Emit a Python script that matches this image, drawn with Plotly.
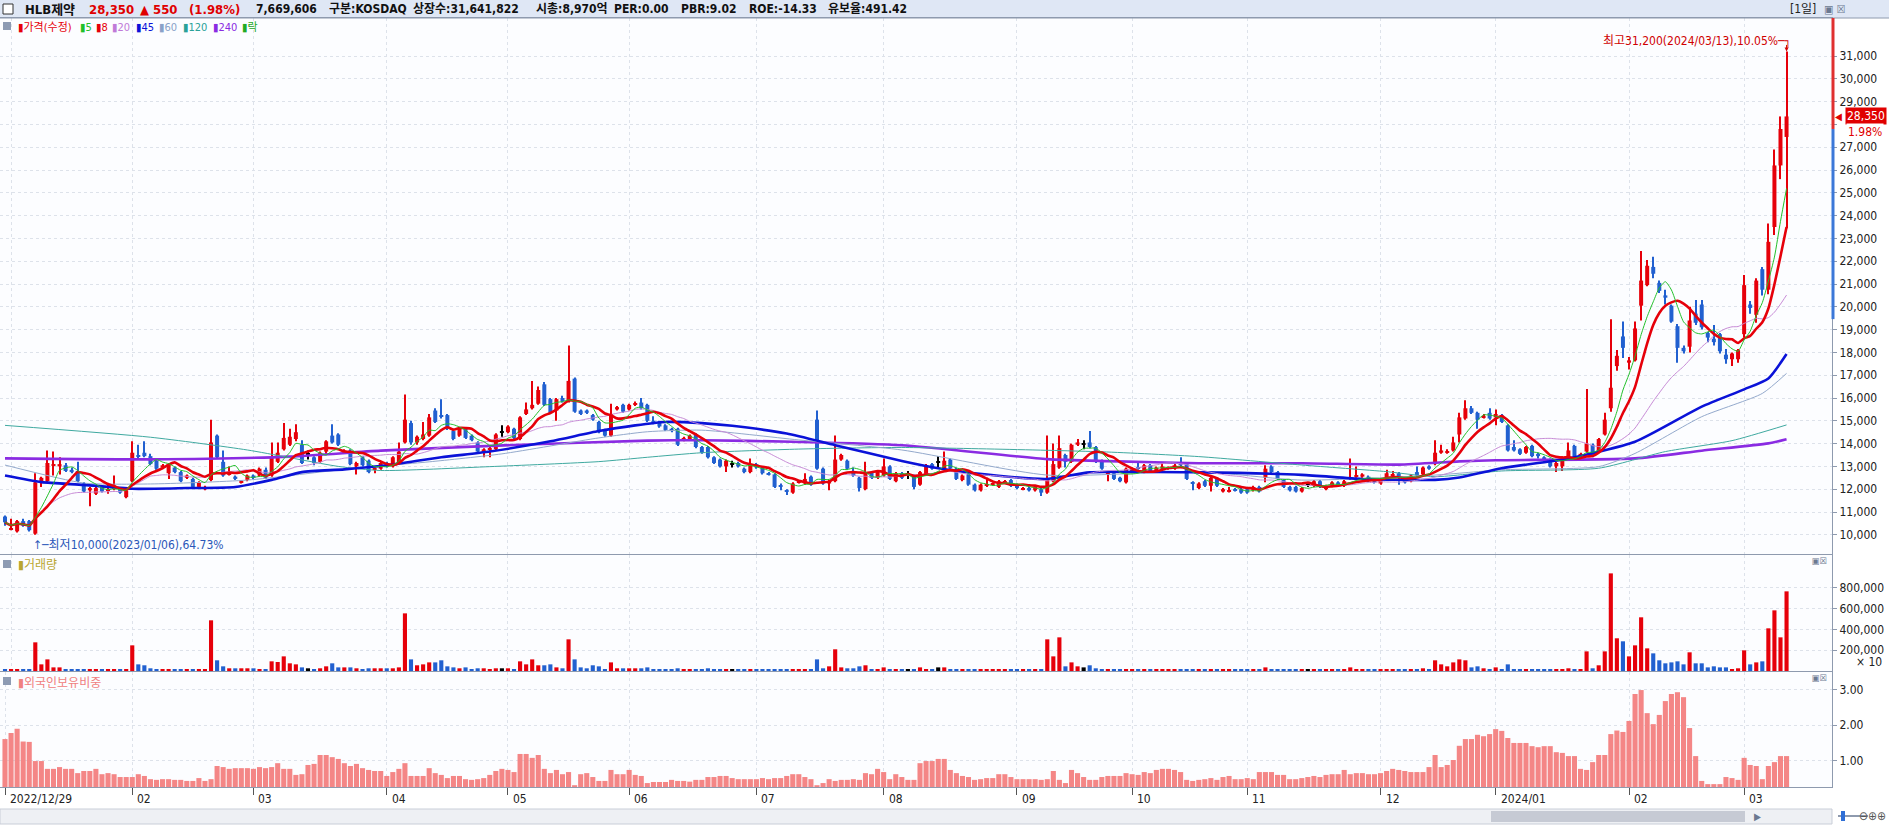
import numpy as np
import pandas as pd
import plotly.graph_objects as go

W, H = 1889, 826
FONT = "DejaVu Sans Condensed, Noto Sans CJK KR, sans-serif"

# KRX trading calendar for the window shown
krx_holidays = ['2022-12-30', '2023-01-23', '2023-01-24', '2023-03-01', '2023-05-01', '2023-05-05',
                '2023-05-29', '2023-06-06', '2023-08-15', '2023-09-28', '2023-09-29', '2023-10-02',
                '2023-10-03', '2023-10-09', '2023-12-25', '2023-12-29', '2024-01-01', '2024-02-09',
                '2024-02-12', '2024-03-01']
dates = [d for d in pd.bdate_range('2022-12-29', '2024-03-13') if d.strftime('%Y-%m-%d') not in krx_holidays]

# daily prices (won)
open_ = [
    10800, 10250, 10150, 10600, 10600, 10050, 12350, 12350, 13050, 13000, 13050, 12850, 12800, 12250, 11950, 11800, 12100, 11950, 12000, 12050, 11650,
    12350, 13500, 13600, 13450, 13250, 12950, 12700, 12950, 12750, 12500, 12450, 12100, 12000, 12400, 14350, 13200, 12650, 12550, 12300, 12400,
    12600, 12600, 12850, 12600, 13200, 13750, 13950, 14200, 13950, 13500, 13400, 13200, 13650, 14350, 14400, 13600, 13700, 13000, 13400, 13250, 12850, 12900,
    13150, 13000, 13150, 14050, 14900, 14050, 14200, 14350, 15450, 15250, 15250, 14550, 14350, 14650, 14350, 14050, 13600, 13750, 13750, 14500,
    14500, 14650, 14200, 15300, 15550, 15750, 16600, 15950, 15450, 16000, 15850, 16850, 15450, 15450, 15250, 14950, 14600, 14350, 15500, 15700,
    15500, 15700, 15800, 15700, 15000, 14950, 14800, 14650, 14650, 14150, 14200, 14400, 13850, 13850, 13400, 13300, 13000, 13100, 13150, 12900, 12750,
    13100, 12950, 12700, 12650, 12150, 11950, 11850, 12300, 12250, 12550, 15050, 12900, 12250, 12350, 13300, 13250, 12750, 12500, 12000, 12750, 12500,
    12600, 13000, 12350, 12700, 12650, 12600, 12200, 12650, 13100, 13150, 12900, 13300, 12900, 12400, 12650, 12200, 11950, 12150, 12200, 12100, 12300, 12400,
    12200, 12000, 12050, 11950, 12000, 11850, 12350, 12950, 13500, 13200, 13950, 13950, 14050, 13850, 13200, 12700, 12700, 12500, 12300,
    12750, 12950, 12750, 13050, 12800, 12900, 12900, 12900, 13150, 13100, 12300, 12050, 12350, 12150, 12450, 11900, 11900, 12000, 12000,
    12000, 11950, 12100, 12500, 13000, 12750, 12400, 12100, 12100, 11900, 12200, 12150, 12350, 12000, 12150, 12300, 12150, 12450, 12550, 12550, 12550, 12400,
    12250, 12450, 12600, 12700, 12450, 12350, 12750, 12650, 13000, 13100, 13600, 13600, 13700, 14400, 15100, 15550, 15350, 15150, 15350,
    15150, 15250, 14800, 13850, 13750, 13600, 13900, 13550, 13400, 13300, 13000, 13000, 13300, 13900, 13450, 13650, 13950, 13650, 14400, 15550, 17400, 18700,
    17550, 17650, 20050, 20950, 21750, 21050, 20500, 20050, 19150, 18200, 18250, 19700, 20100, 18850, 18600, 18800, 17900, 17700, 17700,
    18800, 20100, 19650, 21650, 20750, 23500, 26200, 27450,
]
high = [
    10850, 10700, 10650, 10700, 10650, 12700, 12550, 13700, 13650, 13400, 13150, 12950, 13200, 12300, 12100, 12100, 12150, 12250, 12600, 12100, 12000,
    14100, 13950, 14100, 13550, 13300, 13100, 13150, 13000, 12800, 12650, 12500, 12350, 12150, 15050, 14400, 13700, 13000, 12600, 12400, 12650,
    12650, 12950, 12950, 14050, 14050, 14900, 14650, 14850, 14150, 13700, 13450, 13650, 14150, 14850, 14450, 13750, 13750, 13200, 13450, 13300, 12950, 13200,
    13200, 13450, 14050, 16150, 15000, 14350, 14950, 15300, 15550, 15950, 15300, 14600, 14700, 14700, 14400, 14100, 13800, 13850, 14450, 14800,
    14800, 14700, 15200, 15800, 16750, 16500, 16700, 16000, 16000, 16100, 18300, 16900, 15500, 15500, 15300, 15000, 14650, 15750, 15650, 15750,
    15750, 15850, 16000, 15750, 15200, 15000, 14850, 14700, 14700, 14300, 14400, 14450, 13900, 13900, 13450, 13350, 13300, 13250, 13200, 12950, 13350,
    13150, 13000, 12750, 12700, 12250, 12000, 12300, 12400, 12700, 12600, 15450, 12950, 12400, 14350, 13550, 13300, 12950, 12550, 13200, 12800, 12800,
    13350, 13050, 12750, 12750, 12800, 12650, 12800, 13100, 13150, 13450, 13650, 13350, 12950, 12650, 12700, 12250, 12250, 12450, 12300, 12400, 12400, 12450,
    12250, 12100, 12100, 12150, 12050, 14350, 14000, 14350, 13550, 14000, 14200, 14150, 14550, 13900, 13300, 12800, 12750, 12550, 12950,
    12950, 13150, 13100, 13100, 13000, 13150, 13000, 13100, 13400, 13150, 12350, 12300, 12400, 12550, 12500, 12050, 12100, 12050, 12050,
    12050, 12150, 12150, 13050, 13050, 12800, 12450, 12150, 12150, 12100, 12300, 12400, 12400, 12200, 12350, 12350, 12400, 13350, 13000, 12700, 12600, 12450,
    12500, 12850, 12800, 12750, 12500, 12650, 13000, 13000, 13050, 14150, 13950, 13750, 14300, 15350, 15900, 15650, 15400, 15300, 15550,
    15500, 15300, 14850, 14150, 13800, 13900, 13950, 13600, 13450, 13350, 13200, 13450, 14050, 13950, 13600, 16400, 14000, 14250, 15350, 19450, 18100, 19350,
    17800, 19350, 22450, 22050, 22200, 21150, 20750, 20100, 19250, 18300, 20000, 20300, 20300, 18900, 19200, 18850, 18150, 18000, 18150,
    21400, 20250, 21250, 21750, 23650, 26900, 28350, 31200,
]
low = [
    10400, 10200, 10100, 10350, 10150, 10000, 12100, 12300, 12600, 12650, 12750, 12700, 12300, 11850, 11250, 11750, 11850, 11800, 11950, 11800, 11600,
    12300, 13300, 13400, 13050, 12850, 12900, 12450, 12700, 12300, 12450, 12050, 12050, 11950, 12350, 13350, 12550, 12600, 12400, 12250, 12350,
    12450, 12550, 12450, 12550, 13150, 13700, 13900, 14100, 13100, 13300, 13050, 13150, 13550, 14000, 13900, 13550, 13050, 12650, 13000, 12700, 12700, 12850,
    12950, 12950, 13100, 14000, 13950, 13950, 14150, 14300, 14900, 15100, 14600, 14150, 14300, 14200, 14100, 13600, 13400, 13400, 13700, 14300,
    14450, 14200, 14150, 15250, 15500, 15700, 15650, 15300, 15000, 15800, 15800, 15350, 15250, 15300, 15000, 14450, 14300, 14300, 15450, 15350,
    15450, 15650, 15500, 14950, 14850, 14700, 14550, 14500, 13900, 14100, 14150, 13800, 13550, 13350, 13100, 12950, 12750, 12950, 12950, 12700, 12700,
    12900, 12650, 12600, 12050, 11950, 11750, 11800, 12250, 12200, 12150, 12850, 12200, 11950, 12300, 13250, 12850, 12550, 11900, 11950, 12450, 12450,
    12550, 12400, 12300, 12450, 12450, 12000, 12150, 12600, 12850, 12900, 12850, 12850, 12400, 12350, 12150, 11900, 11900, 12100, 12150, 12050, 12250, 12100,
    12000, 11950, 11900, 11900, 11700, 11800, 12300, 12900, 12950, 13150, 13900, 13750, 13800, 13150, 12850, 12350, 12400, 12300, 12250,
    12700, 12850, 12700, 12750, 12750, 12850, 12850, 12850, 13000, 12400, 11950, 12000, 12100, 11900, 12100, 11850, 11850, 11900, 11800,
    11800, 11900, 11850, 12300, 12700, 12400, 12050, 11900, 11850, 11850, 12100, 12100, 12050, 11950, 12100, 12100, 12100, 12400, 12500, 12500, 12300, 12250,
    12200, 12400, 12550, 12200, 12250, 12300, 12550, 12600, 12850, 13050, 13550, 13550, 13650, 14050, 15050, 15300, 14650, 15100, 15050,
    14800, 14900, 13650, 13650, 13500, 13550, 13400, 13350, 13200, 12950, 12750, 12800, 13250, 13350, 13400, 13600, 13400, 13600, 14350, 15400, 17200, 17750,
    17250, 17600, 19400, 20900, 21250, 20600, 20100, 19300, 17550, 17950, 18000, 19200, 19000, 18450, 18300, 17950, 17500, 17400, 17550,
    18650, 19700, 19300, 20500, 20550, 23150, 25600, 23450,
]
close = [
    10550, 10300, 10600, 10400, 10200, 12300, 12500, 13150, 13100, 13100, 12800, 12750, 12350, 11900, 12050, 12050, 11900, 12000, 12100, 11850, 11950,
    13600, 13450, 13450, 13100, 12900, 13050, 13100, 12750, 12350, 12600, 12100, 12300, 12100, 14050, 13400, 12600, 12700, 12450, 12350, 12600,
    12500, 12900, 12500, 13400, 13600, 14250, 14300, 14500, 13150, 13500, 13150, 13600, 14100, 14050, 13950, 13700, 13100, 13150, 13050, 12750, 12900, 13150,
    13050, 13400, 13650, 15050, 14050, 14300, 14400, 15150, 14950, 15200, 14650, 14200, 14650, 14250, 14150, 13650, 13750, 13800, 14400, 14500,
    14750, 14250, 15150, 15500, 15700, 16350, 15700, 15350, 15950, 15850, 16750, 15400, 15300, 15350, 15050, 14500, 14350, 15300, 15600, 15400,
    15700, 15750, 15550, 15000, 14900, 14750, 14600, 14550, 13950, 14250, 14350, 13850, 13600, 13400, 13150, 13000, 13250, 13100, 13000, 12750, 13100,
    12950, 12700, 12650, 12100, 12100, 11900, 12250, 12350, 12450, 12200, 12900, 12250, 12350, 13300, 13500, 12900, 12600, 12050, 12750, 12500, 12750,
    13000, 12450, 12700, 12500, 12650, 12100, 12750, 13000, 12900, 13150, 13250, 12900, 12450, 12600, 12200, 11950, 12200, 12200, 12250, 12350, 12350, 12150,
    12050, 12050, 11950, 12100, 11850, 12450, 13100, 13800, 13200, 13950, 14050, 13950, 13850, 13200, 12900, 12750, 12450, 12350, 12900,
    12900, 12900, 13050, 12800, 12950, 13000, 12950, 13050, 13050, 12450, 12250, 12250, 12150, 12500, 12150, 12000, 11950, 11950, 11850,
    11850, 12100, 11900, 12900, 12750, 12450, 12100, 11950, 11900, 12050, 12200, 12350, 12100, 12150, 12300, 12150, 12350, 12500, 12600, 12650, 12350, 12300,
    12450, 12700, 12650, 12500, 12300, 12600, 12600, 12950, 12900, 13600, 13700, 13650, 14050, 15150, 15550, 15350, 15050, 15200, 15100,
    15300, 14950, 13700, 13700, 13550, 13850, 13450, 13450, 13250, 13000, 13150, 13400, 13700, 13400, 13550, 14000, 13450, 14200, 15050, 16450, 17850, 18200,
    17650, 19050, 21150, 21800, 21450, 20700, 20400, 19350, 18200, 18050, 19400, 19300, 19100, 18650, 18450, 18050, 17700, 17950, 18100,
    20950, 19950, 21150, 20750, 22850, 26200, 27800, 28350,
]

# volume in thousand shares
volume_k = [
    160, 160, 160, 160, 160, 2760, 640, 1120, 350, 350, 160, 160, 160, 160, 160, 100, 100, 100, 160, 100, 100,
    2470, 640, 550, 260, 160, 100, 160, 160, 160, 100, 160, 100, 160, 4880, 1030, 450, 260, 260, 260, 260,
    260, 160, 160, 930, 870, 1410, 740, 640, 350, 260, 160, 260, 450, 740, 350, 350, 350, 260, 160, 260, 260, 260,
    260, 260, 350, 5550, 1120, 550, 640, 830, 830, 1030, 450, 350, 260, 350, 160, 260, 260, 160, 260, 260,
    260, 160, 930, 640, 1120, 550, 550, 640, 350, 260, 3050, 1120, 350, 260, 550, 450, 160, 830, 260, 260,
    260, 260, 260, 350, 160, 160, 160, 160, 260, 160, 100, 160, 160, 260, 100, 160, 160, 160, 160, 100, 160,
    160, 100, 100, 160, 160, 100, 100, 100, 160, 100, 1120, 260, 450, 2090, 350, 260, 260, 450, 550, 160, 160,
    350, 160, 160, 160, 160, 160, 350, 160, 160, 350, 350, 160, 160, 160, 160, 160, 160, 100, 100, 100, 100, 100,
    100, 100, 100, 100, 100, 3050, 1410, 3240, 450, 830, 450, 350, 550, 260, 160, 160, 160, 160, 160,
    160, 100, 160, 160, 100, 100, 100, 100, 160, 160, 160, 100, 100, 100, 100, 100, 100, 100, 100,
    100, 100, 100, 350, 160, 100, 100, 100, 100, 100, 100, 100, 100, 100, 100, 100, 100, 350, 160, 100, 100, 100,
    100, 160, 100, 100, 100, 100, 160, 260, 100, 1030, 640, 450, 830, 1120, 1030, 350, 450, 260, 160,
    350, 160, 640, 160, 100, 100, 160, 100, 100, 100, 100, 160, 260, 160, 100, 1890, 260, 550, 1890, 9400, 3150, 2860,
    1410, 2470, 5170, 2180, 1700, 1030, 740, 830, 930, 640, 1800, 740, 740, 350, 450, 350, 350, 160, 260,
    1990, 640, 830, 930, 4110, 5840, 3240, 7670,
]

# foreign ownership ratio (%)
foreign_pct = [
    1.61, 1.78, 1.90, 1.54, 1.53, 0.99, 0.99, 0.77, 0.77, 0.82, 0.77, 0.77, 0.65, 0.71, 0.71, 0.77, 0.62, 0.65, 0.62, 0.54, 0.54,
    0.54, 0.62, 0.57, 0.48, 0.46, 0.48, 0.48, 0.46, 0.46, 0.43, 0.43, 0.51, 0.43, 0.48, 0.85, 0.82, 0.77, 0.79, 0.79, 0.79,
    0.77, 0.82, 0.79, 0.82, 0.93, 0.77, 0.77, 0.60, 0.62, 0.88, 0.91, 1.16, 1.16, 1.10, 1.05, 0.93, 0.85, 0.91, 0.79, 0.74, 0.71, 0.71,
    0.57, 0.68, 0.77, 0.93, 0.57, 0.57, 0.57, 0.79, 0.65, 0.60, 0.51, 0.57, 0.57, 0.48, 0.46, 0.48, 0.51, 0.60, 0.71, 0.77,
    0.74, 0.68, 1.19, 1.19, 1.08, 1.16, 0.77, 0.65, 0.74, 0.62, 0.68, 0.31, 0.62, 0.65, 0.54, 0.43, 0.43, 0.74, 0.62, 0.62,
    0.74, 0.60, 0.57, 0.37, 0.40, 0.40, 0.40, 0.46, 0.43, 0.43, 0.41, 0.46, 0.46, 0.54, 0.54, 0.57, 0.57, 0.51, 0.48, 0.48, 0.48,
    0.48, 0.51, 0.48, 0.51, 0.51, 0.57, 0.62, 0.62, 0.54, 0.48, 0.31, 0.37, 0.48, 0.43, 0.46, 0.46, 0.48, 0.46, 0.65, 0.62, 0.77,
    0.68, 0.48, 0.62, 0.54, 0.46, 0.46, 0.93, 0.99, 0.99, 1.05, 1.05, 0.74, 0.65, 0.57, 0.54, 0.46, 0.48, 0.51, 0.51, 0.62, 0.62, 0.54,
    0.48, 0.48, 0.48, 0.48, 0.46, 0.48, 0.71, 0.46, 0.37, 0.74, 0.65, 0.54, 0.46, 0.46, 0.54, 0.57, 0.57, 0.57, 0.65,
    0.62, 0.60, 0.68, 0.65, 0.74, 0.77, 0.77, 0.74, 0.68, 0.46, 0.43, 0.46, 0.48, 0.51, 0.46, 0.54, 0.57, 0.48, 0.48,
    0.51, 0.48, 0.68, 0.68, 0.68, 0.60, 0.60, 0.48, 0.48, 0.51, 0.54, 0.57, 0.54, 0.60, 0.62, 0.62, 0.74, 0.62, 0.65, 0.65, 0.62, 0.62,
    0.65, 0.71, 0.77, 0.74, 0.71, 0.68, 0.68, 0.68, 0.82, 1.16, 0.82, 0.88, 1.02, 1.42, 1.61, 1.61, 1.73, 1.69, 1.75,
    1.89, 1.84, 1.64, 1.50, 1.50, 1.50, 1.41, 1.38, 1.41, 1.41, 1.24, 1.22, 1.13, 1.13, 0.77, 0.74, 0.96, 1.16, 1.16, 1.75, 1.85, 1.81,
    2.12, 2.88, 2.99, 2.34, 2.03, 2.29, 2.68, 2.88, 2.93, 2.79, 1.92, 1.13, 0.43, 0.34, 0.34, 0.34, 0.54, 0.51, 0.46,
    1.08, 0.88, 0.85, 0.48, 0.85, 0.96, 1.13, 1.13,
]

# longer moving averages, read at points along each line (bar index, value)
ma45_idx = [0, 6, 13, 21, 30, 38, 44, 49, 56, 63, 72, 80, 90, 98, 104, 109, 115, 120, 129, 137, 148, 154, 160, 172, 179, 197, 214, 224, 236, 240, 247, 258, 269, 280, 287, 291, 294]
ma45_val = [12600, 12310, 12190, 12020, 12050, 12100, 12410, 12750, 12870, 13050, 13400, 13650, 14100, 14550, 14800, 14950, 14900, 14780, 14440, 13930, 13240, 12920, 12700, 12450, 12740, 12740, 12630, 12450, 12410, 12510, 12920, 13350, 14080, 15620, 16380, 16860, 17930]
ma60_idx = [0, 13, 24, 40, 57, 70, 82, 98, 106, 115, 131, 148, 172, 197, 214, 236, 247, 263, 269, 280, 290, 294]
ma60_val = [13060, 12270, 12230, 12400, 12900, 13200, 13550, 14250, 14520, 14590, 14160, 13720, 12620, 12770, 12400, 12620, 12850, 12990, 13570, 15180, 16200, 17080]
ma120_idx = [0, 24, 40, 55, 62, 80, 98, 106, 115, 131, 148, 181, 197, 214, 228, 236, 247, 263, 274, 285, 294]
ma120_val = [14800, 14280, 13720, 13000, 12820, 12990, 13210, 13400, 13600, 13760, 13830, 13640, 13430, 13060, 12770, 12550, 12800, 12920, 13650, 14130, 14820]
ma240_idx = [0, 24, 47, 62, 84, 106, 115, 130, 148, 172, 182, 197, 214, 230, 240, 246, 269, 280, 291, 294]
ma240_val = [13350, 13310, 13430, 13690, 13940, 14130, 14150, 14080, 13930, 13320, 13230, 13140, 13140, 13080, 13220, 13270, 13350, 13690, 14010, 14190]

n = len(close)
lens = [len(a) for a in (open_, high, low, close, volume_k, foreign_pct, dates)]
if len(set(lens)) != 1:
    raise ValueError(f"length mismatch: {lens}")

idx = np.arange(n)
o, h, l, c = (np.array(a, dtype=float) for a in (open_, high, low, close))
s = pd.Series(c)
ma5 = s.rolling(5, min_periods=1).mean()
ma8 = s.rolling(8, min_periods=1).mean()
ma20 = s.rolling(20, min_periods=1).mean()

UP, DOWN, FLAT = '#e6000a', '#2160d0', '#000000'
cols = [UP if cc > oo else (DOWN if cc < oo else FLAT) for oo, cc in zip(o, c)]
BORDER = '#8e9aae'
GRID = '#dde2ea'

last, prev = close[-1], close[-2]
chg = last - prev
pct = chg / prev * 100

# month starts for grid / labels
month_start = [i for i in range(1, n) if dates[i].month != dates[i - 1].month]
label_idx = [0] + [i for i in month_start if i > 10]
label_txt = [dates[0].strftime('%Y/%m/%d')] + [dates[i].strftime('%Y/%m') if dates[i].month == 1 else dates[i].strftime('%m') for i in label_idx[1:]]

fig = go.Figure()

# candles
fig.add_trace(go.Bar(x=idx, y=h - l, base=l, width=0.17, marker=dict(color=cols, line_width=0),
                     xaxis='x', yaxis='y', hoverinfo='skip'))
fig.add_trace(go.Bar(x=idx, y=np.maximum(np.abs(c - o), 45), base=np.minimum(o, c), width=0.66,
                     marker=dict(color=cols, line_width=0), xaxis='x', yaxis='y', hoverinfo='skip'))

# moving averages
ma_lines = [
    (ma240_idx, ma240_val, '#8a2be2', 2.6),
    (ma120_idx, ma120_val, '#3fa9a0', 1),
    (ma60_idx, ma60_val, '#93a9cc', 1),
    (ma45_idx, ma45_val, '#0a12d8', 2.6),
    (idx, ma20, '#c78ad6', 1),
    (idx, ma8, '#e6000a', 2.6),
    (idx, ma5, '#22c02a', 1),
]
for xs, ys, colr, wdt in ma_lines:
    fig.add_trace(go.Scatter(x=xs, y=ys, mode='lines', line=dict(color=colr, width=wdt, shape='spline', smoothing=0.6),
                             xaxis='x', yaxis='y', hoverinfo='skip'))

# volume (axis units are x10 shares)
fig.add_trace(go.Bar(x=idx, y=np.array(volume_k) * 100, width=0.68, marker=dict(color=cols, line_width=0),
                     xaxis='x2', yaxis='y2', hoverinfo='skip'))
# foreign ownership
fig.add_trace(go.Bar(x=idx, y=foreign_pct, width=0.84, marker=dict(color='#f48686', line_width=0),
                     xaxis='x3', yaxis='y3', hoverinfo='skip'))

XR = [-0.825, 301.5]
XD = [0, 1832 / W]
def py(p):
    return 1 - p / H

xbase = dict(range=XR, domain=XD, tickvals=month_start, showgrid=True, gridcolor=GRID, griddash='dot',
             zeroline=False, showline=True, linecolor=BORDER, mirror=True, showticklabels=False, ticks='',
             fixedrange=True)
ybase = dict(side='right', showgrid=True, gridcolor=GRID, griddash='dot', zeroline=False, showline=True,
             linecolor=BORDER, mirror=True, ticks='outside', ticklen=4, tickcolor=BORDER,
             tickfont=dict(size=12, color='#222', family=FONT), fixedrange=True)

price_ticks = list(range(10000, 31001, 1000))
price_text = ['' if abs(v - last) < 500 else f'{v:,}' for v in price_ticks]
YR = [9158, 32667]

fig.update_layout(
    width=W, height=H, autosize=False,
    margin=dict(l=0, r=0, t=0, b=0),
    paper_bgcolor='white', plot_bgcolor='#fcfdff',
    showlegend=False, barmode='overlay', hovermode=False,
    font=dict(family=FONT, size=12, color='#222'),
    xaxis=dict(xbase, anchor='y'),
    xaxis2=dict(xbase, anchor='y2', matches='x'),
    xaxis3=dict(xbase, anchor='y3', matches='x', tickvals=label_idx, ticks='outside',
                ticklen=7, tickcolor='#555'),
    yaxis=dict(ybase, domain=[py(554), py(18)], range=YR, tickvals=price_ticks, ticktext=price_text, anchor='x'),
    yaxis2=dict(ybase, domain=[py(671), py(555)], range=[0, 1117000], tickvals=[200000, 400000, 600000, 800000],
                tickformat=',', anchor='x2'),
    yaxis3=dict(ybase, domain=[py(787), py(672)], range=[0.259, 3.499], tickvals=[1, 2, 3], tickformat='.2f',
                anchor='x3'),
)

shapes = [
    # header strip
    dict(type='rect', xref='paper', yref='paper', x0=0, x1=1, y0=py(18), y1=1, fillcolor='#dfe7f5',
         line=dict(width=0), layer='below'),
    dict(type='line', xref='paper', yref='paper', x0=0, x1=1, y0=py(18), y1=py(18), line=dict(color=BORDER, width=1)),
    dict(type='rect', xref='paper', yref='paper', x0=3 / W, x1=13 / W, y0=py(14), y1=py(4), fillcolor='white',
         line=dict(color='#333', width=1)),
    # panel icons
    dict(type='rect', xref='paper', yref='paper', x0=3 / W, x1=11 / W, y0=py(30), y1=py(22), fillcolor='#8d9bb3', line=dict(width=0)),
    dict(type='rect', xref='paper', yref='paper', x0=3 / W, x1=11 / W, y0=py(568), y1=py(560), fillcolor='#8d9bb3', line=dict(width=0)),
    dict(type='rect', xref='paper', yref='paper', x0=3 / W, x1=11 / W, y0=py(685), y1=py(677), fillcolor='#8d9bb3', line=dict(width=0)),
    # scroll bar
    dict(type='rect', xref='paper', yref='paper', x0=0, x1=1832 / W, y0=py(824), y1=py(809), fillcolor='#eef0f4',
         line=dict(color='#c9ced8', width=1)),
    dict(type='rect', xref='paper', yref='paper', x0=1491 / W, x1=1745 / W, y0=py(822), y1=py(811), fillcolor='#c6cad4',
         line=dict(width=0)),
    dict(type='line', xref='paper', yref='paper', x0=1838 / W, x1=1868 / W, y0=py(816), y1=py(816), line=dict(color='#8e9aae', width=2)),
    dict(type='rect', xref='paper', yref='paper', x0=1841 / W, x1=1845 / W, y0=py(821), y1=py(811), fillcolor='#2f6fd6', line=dict(width=0)),
]
# daily price-limit band on the price axis (+-30% of previous close)
ytop = YR[1]
shapes.append(dict(type='line', xref='paper', yref='y', x0=XD[1] + 1 / W, x1=XD[1] + 1 / W, y0=prev * 0.7, y1=prev,
                   line=dict(color='#3c78d8', width=3)))
shapes.append(dict(type='line', xref='paper', yref='y', x0=XD[1] + 1 / W, x1=XD[1] + 1 / W, y0=prev, y1=min(prev * 1.3, ytop),
                   line=dict(color='#e03030', width=3)))
fig.update_layout(shapes=shapes)

def ann(xpx, ypx, text, color='#222', size=12, anchor='left', **kw):
    return dict(xref='paper', yref='paper', x=xpx / W, y=py(ypx), text=text, showarrow=False, xanchor=anchor,
                yanchor='middle', font=dict(color=color, size=size, family=FONT), **kw)

anns = []
# header
anns.append(ann(23, 9, '<b>HLB제약</b>', '#111', 13))
anns.append(ann(87, 9, f'<b>{last:,}</b>', '#e00000', 13))
anns.append(ann(138, 9, f'<b>▲ {chg:,}</b>', '#e00000', 13))
anns.append(ann(187, 9, f'<b>({pct:.2f}%)</b>', '#e00000', 13))
for xp, t in [(254, '7,669,606'), (327, '구분:KOSDAQ'), (411, '상장수:31,641,822'), (534, '시총:8,970억'),
              (612, 'PER:0.00'), (679, 'PBR:9.02'), (747, 'ROE:-14.33'), (826, '유보율:491.42')]:
    anns.append(ann(xp, 9, f'<b>{t}</b>', '#111', 12))
anns.append(ann(1818, 9, '[1일]', '#222', 12, anchor='right'))
anns.append(ann(1822, 9, '▣ ☒', '#6b7890', 11))

# legend row
for xp, colr, t in [(16, '#e6000a', '가격(수정)'), (78, '#22c02a', '5'), (94, '#e6000a', '8'), (110, '#c07ad8', '20'),
                    (134, '#0a12d8', '45'), (157, '#8aa2c8', '60'), (181, '#2aa198', '120'), (211, '#8a2be2', '240'),
                    (240, '#22aa22', '락')]:
    anns.append(ann(xp, 27, f'▮{t}', colr, 11))
anns.append(ann(16, 565, '▮거래량', '#b9a630', 12))
anns.append(ann(16, 683, '▮외국인보유비중', '#f08080', 12))
anns.append(ann(1829, 561, '▣☒', '#6b7890', 9, anchor='right'))
anns.append(ann(1829, 678, '▣☒', '#6b7890', 9, anchor='right'))
anns.append(ann(1884, 662, '× 10', '#222', 12, anchor='right'))

# x-axis labels
for i, t in zip(label_idx, label_txt):
    anns.append(dict(xref='x3', yref='paper', x=i, y=py(799), text=t, showarrow=False, xanchor='left',
                     yanchor='middle', xshift=3, font=dict(size=12, color='#222', family=FONT)))
anns.append(ann(1752, 816, '▶', '#6b7890', 10))
anns.append(ann(1888, 816, '⊖⊕⊕', '#555', 12, anchor='right'))

# high / low markers
hi_i, lo_i = int(np.argmax(high)), int(np.argmin(low))
hi_txt = f'최고{high[hi_i]:,}({dates[hi_i]:%Y/%m/%d}),{(high[hi_i] - last) / last * 100:.2f}%─┐'
lo_txt = f'↑─최저{low[lo_i]:,}({dates[lo_i]:%Y/%m/%d}),{(last - low[lo_i]) / last * 100:.2f}%'
anns.append(dict(xref='x', yref='y', x=hi_i, y=high[hi_i], text=hi_txt, showarrow=False, xanchor='right',
                 yanchor='middle', xshift=6, yshift=10, font=dict(size=12, color='#d00000', family=FONT)))
anns.append(dict(xref='x', yref='y', x=hi_i, y=high[hi_i], text='', showarrow=True, arrowhead=2, arrowsize=0.8,
                 arrowwidth=1, arrowcolor='#d00000', ax=0, ay=-8))
anns.append(dict(xref='x', yref='y', x=lo_i, y=low[lo_i], text=lo_txt, showarrow=False, xanchor='left',
                 yanchor='middle', xshift=-4, yshift=-10, font=dict(size=12, color='#2a56b8', family=FONT)))

# last price tag on the axis
anns.append(dict(xref='paper', yref='y', x=XD[1], y=last, text='◀', showarrow=False, xanchor='left', yanchor='middle',
                 xshift=1, font=dict(size=10, color='#e00000')))
anns.append(dict(xref='paper', yref='y', x=XD[1], y=last, text=f'{last:,}', showarrow=False, xanchor='left',
                 yanchor='middle', xshift=13, bgcolor='#e00000', borderpad=1, font=dict(size=12, color='white', family=FONT)))
anns.append(dict(xref='paper', yref='y', x=1, y=last, text=f'{pct:.2f}%', showarrow=False, xanchor='right',
                 yanchor='middle', xshift=-5, yshift=-16, bgcolor='white', font=dict(size=12, color='#e00000', family=FONT)))

fig.update_layout(annotations=anns)

fig.write_html("out.html", config={'displayModeBar': False},
               post_script="document.body.style.margin='0';document.body.style.overflow='hidden';")
